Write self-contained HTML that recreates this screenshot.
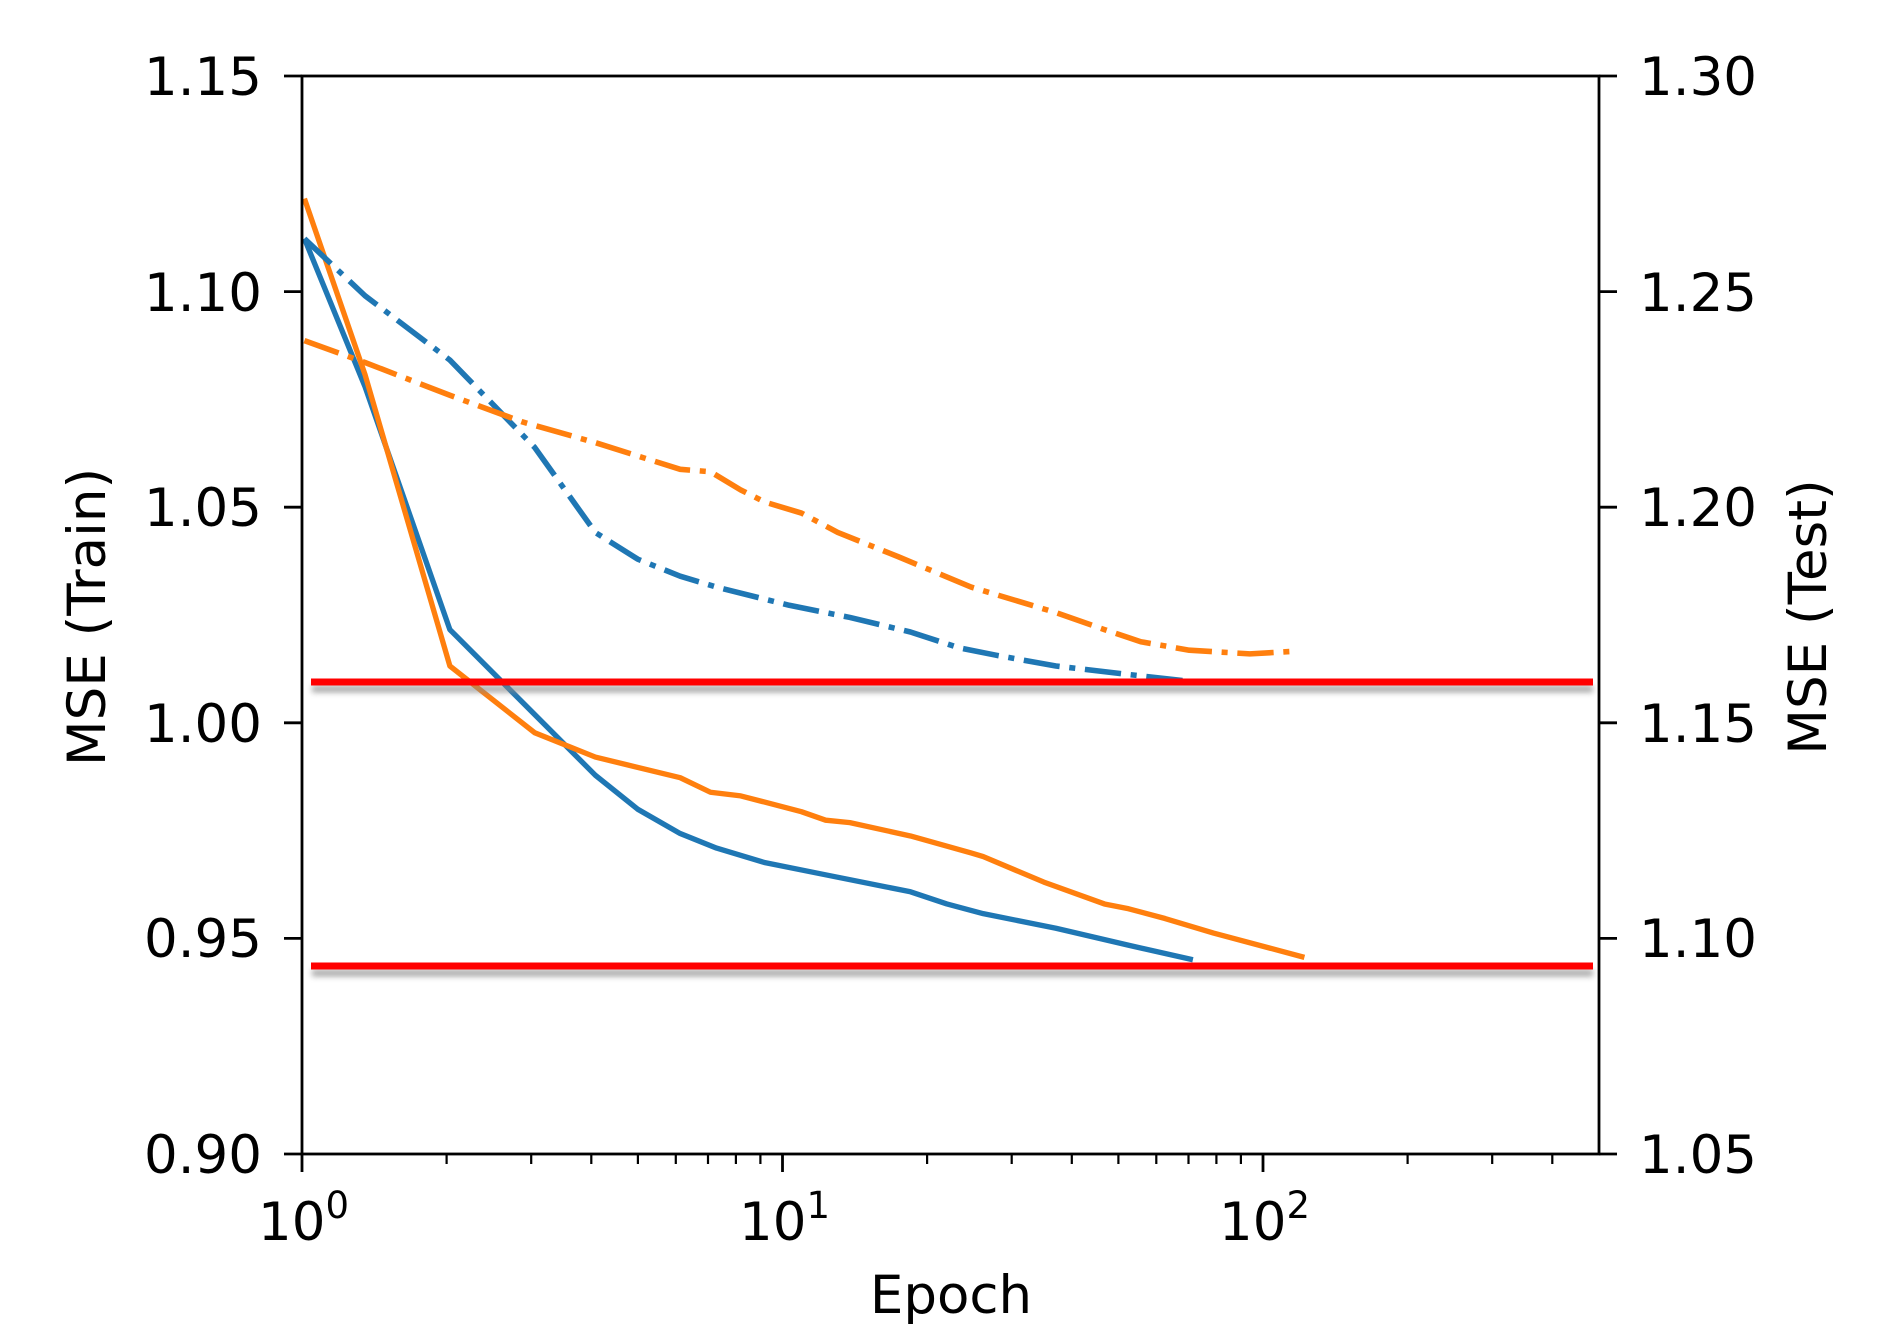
<!DOCTYPE html>
<html><head><meta charset="utf-8"><style>
html,body{margin:0;padding:0;background:#fff;}
svg{display:block;font-family:"DejaVu Sans","Liberation Sans",sans-serif;}
</style></head><body>
<svg width="1901" height="1337" viewBox="0 0 1901 1337" xmlns="http://www.w3.org/2000/svg">
<defs><filter id="sh" x="-5%" y="-200%" width="110%" height="500%"><feGaussianBlur stdDeviation="3"/></filter></defs>
<rect width="1901" height="1337" fill="#fff"/>
<g transform="matrix(1.2121 0 0 1.214 1.4 -1.7)" fill="none" stroke-linejoin="round">
<polyline stroke="#1f77b4" stroke-width="4.4" points="250,198 300,320 370,520 440,590 490,640 525,668 560,688 590,700 630,712 680,722 750,736 780,746 810,754 870,766 930,780 983,792"/>
<polyline stroke="#ff7f0e" stroke-width="4.4" points="250,165 300,310 370,550 440,605 490,625 560,642 585,654 610,657 660,670 680,677 700,679 750,690 800,704 810,707 860,728 910,746 930,750 960,758 1000,770 1075,790"/>
<polyline stroke="#1f77b4" stroke-width="4.6" stroke-dasharray="30 8 5 8" points="250,198 300,245 370,298 440,370 490,440 525,462 560,476 590,485 650,500 700,510 750,522 790,535 820,541 870,550 930,557 975,562"/>
<polyline stroke="#ff7f0e" stroke-width="4.6" stroke-dasharray="30 8 5 8" points="250,282 300,300 370,327 430,349 490,366 560,388 585,390 610,405 630,415 660,424 690,440 740,460 800,485 870,506 910,520 940,530 980,537 1030,540 1065,538"/>
</g>
<g stroke="#888" stroke-width="7" opacity="0.7" filter="url(#sh)">
<line x1="312" y1="689" x2="1593" y2="689"/>
<line x1="312" y1="973" x2="1593" y2="973"/>
</g>
<g stroke="#ff0000" stroke-width="7">
<line x1="311" y1="682" x2="1593" y2="682"/>
<line x1="311" y1="966" x2="1593" y2="966"/>
</g>
<rect x="302" y="76" width="1297" height="1078" fill="none" stroke="#000" stroke-width="2.8"/>
<g stroke="#000" stroke-width="2.8">
<path d="M284 76H302M284 291.6H302M284 507.2H302M284 722.8H302M284 938.4H302M284 1154H302"/>
<path d="M1599 76H1617M1599 291.6H1617M1599 507.2H1617M1599 722.8H1617M1599 938.4H1617M1599 1154H1617"/>
<path d="M302 1154V1172M782.5 1154V1172M1263 1154V1172"/>
<path stroke-width="2.2" d="M446.6 1154v10M531.2 1154v10M591.3 1154v10M637.9 1154v10M675.8 1154v10M708 1154v10M735.9 1154v10M760.4 1154v10M927.1 1154v10M1011.7 1154v10M1071.8 1154v10M1118.4 1154v10M1156.3 1154v10M1188.5 1154v10M1216.4 1154v10M1240.9 1154v10M1407.6 1154v10M1492.2 1154v10M1552.3 1154v10"/>
</g>
<g font-size="53" fill="#000" text-anchor="end">
<text x="262" y="95">1.15</text>
<text x="262" y="311">1.10</text>
<text x="262" y="526">1.05</text>
<text x="262" y="742">1.00</text>
<text x="262" y="957">0.95</text>
<text x="262" y="1173">0.90</text>
</g>
<g font-size="53" fill="#000" text-anchor="start">
<text x="1639" y="95">1.30</text>
<text x="1639" y="311">1.25</text>
<text x="1639" y="526">1.20</text>
<text x="1639" y="742">1.15</text>
<text x="1639" y="957">1.10</text>
<text x="1639" y="1173">1.05</text>
</g>
<g font-size="53" fill="#000">
<text x="258" y="1240">10<tspan font-size="37" dy="-22">0</tspan></text>
<text x="739" y="1240">10<tspan font-size="37" dy="-22">1</tspan></text>
<text x="1219" y="1240">10<tspan font-size="37" dy="-22">2</tspan></text>
<text x="951" y="1313" text-anchor="middle">Epoch</text>
<text transform="translate(105,617) rotate(-90)" text-anchor="middle">MSE (Train)</text>
<text transform="translate(1826,617) rotate(-90)" text-anchor="middle">MSE (Test)</text>
</g>
</svg>
</body></html>
